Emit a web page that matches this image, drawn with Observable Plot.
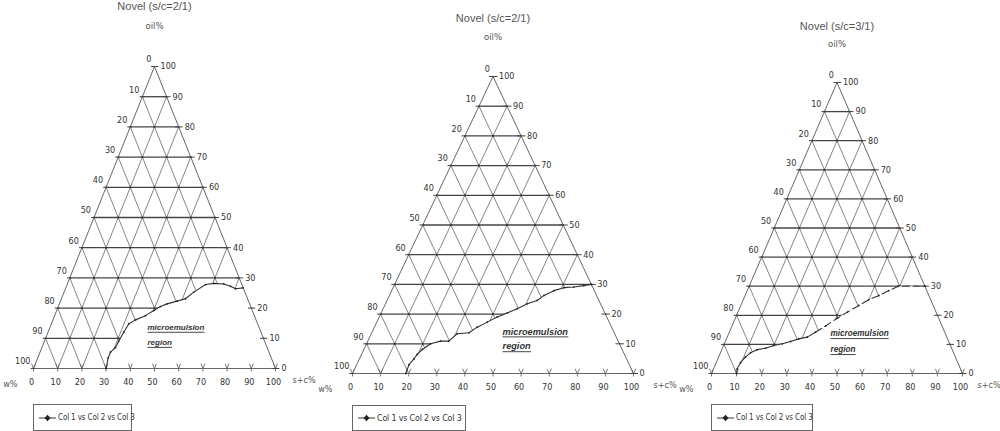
<!DOCTYPE html>
<html>
<head>
<meta charset="utf-8">
<script src="https://cdn.jsdelivr.net/npm/d3@7"></script>
<script src="https://cdn.jsdelivr.net/npm/@observablehq/plot@0.6"></script>
<style>
  html, body { margin: 0; padding: 0; background: #fff; }
  #root { position: relative; width: 1000px; height: 431px; overflow: hidden; background: #fff; }
  .legend { position: absolute; box-sizing: border-box; border: 1px solid #666; background: #fff; white-space: nowrap;
            display: flex; align-items: center; font-family: "DejaVu Sans Condensed", "Liberation Sans", sans-serif; color: #333; letter-spacing: -0.15px; }
  .legend svg { margin: 0 2px 0 5px; flex: none; }
</style>
</head>
<body>
<div id="root"></div>
<script>
// ---------- data ----------
const scTicks  = [0, 10, 20, 30, 40, 50, 60, 70, 80, 90, 100];   // s+c% (bottom)
const oilTicks = [0, 10, 20, 30, 40, 50, 60, 70, 80, 90, 100];   // oil% (right)
const wTicks   = [0, 10, 20, 30, 40, 50, 60, 70, 80, 90, 100];   // w%  (left)

const titles = ["Novel (s/c=2/1)", "Novel (s/c=2/1)", "Novel (s/c=3/1)"];
const apexLabel = "oil%";
const leftLabel = "w%";
const rightLabel = "s+c%";
const legendLabel = "Col 1 vs Col 2 vs Col 3";
const regionLabel = ["microemulsion", "region"];

// phase boundary, as (s+c %, oil %) pairs
const curve1SC  = [30.0, 29.1, 29.1, 30.4, 30.7, 31.3, 32.0, 34.1, 37.5, 40.1, 42.2, 44.5, 48.2, 51.2, 53.6, 57.2, 60.4, 64.6, 67.8, 70.3, 73.3];
const curve1Oil = [0.0,  3.5,  5.4,  6.9,  9.0, 12.0, 14.8, 16.1, 17.5, 19.2, 20.5, 21.4, 22.3, 23.1, 25.3, 27.8, 28.2, 28.0, 27.2, 26.4, 26.7];

const curve2SC  = [19.0, 18.6, 19.4, 19.8, 20.8, 22.8, 25.9, 28.8, 30.6, 34.6, 36.6, 39.3, 42.0, 44.9, 47.7, 50.5, 53.4, 55.0, 57.7, 60.8, 64.2, 67.5, 70.0];
const curve2Oil = [0.0,  2.9,  4.9,  6.4,  8.1, 10.0, 10.9, 10.9, 13.4, 13.7, 15.6, 17.3, 19.0, 20.4, 21.8, 23.5, 24.6, 26.3, 27.9, 28.9, 29.1, 29.6, 30.0];

const curve3SC  = [10.0, 9.4, 9.7, 10.7, 12.0, 14.1, 17.2, 20.0, 23.1, 26.0, 28.8, 31.9, 34.3, 37.3, 40.6, 43.6, 47.0, 50.0, 53.3, 56.4, 59.5, 70.0];
const curve3Oil = [0.0,  1.6, 3.7,  5.6,  7.1,  8.2,  8.7,  9.6, 10.2, 11.0, 11.9, 12.5, 14.2, 16.3, 19.0, 21.1, 23.4, 25.4, 26.8, 28.5, 30.0, 30.0];

// ---------- layout (pixels) ----------
const panels = [
  { title: titles[0], sc: curve1SC, oil: curve1Oil, dashFrom: null,
    left: 0,   width: 320, mL: 33, mR: 45, mT: 66, mB: 63, titleDy: -64, apexDy: -44, wDx: -16, scDx: 17,
    label: { x: 47.1, y1: 13.6, y2: 8.6, size: 8 },
    legend: { left: 33, top: 404, width: 99, height: 27, size: 8 } },
  { title: titles[1], sc: curve2SC, oil: curve2Oil, dashFrom: null,
    left: 310, width: 350, mL: 42, mR: 27, mT: 76, mB: 58, titleDy: -62, apexDy: -43, wDx: -20, scDx: 20,
    label: { x: 53.4, y1: 14.1, y2: 9.1, size: 9.2 },
    legend: { left: 352, top: 405, width: 114, height: 26, size: 8.8 } },
  { title: titles[2], sc: curve3SC, oil: curve3Oil, dashFrom: 12,
    left: 660, width: 340, mL: 51, mR: 38, mT: 82, mB: 58, titleDy: -60, apexDy: -42, wDx: -18, scDx: 15,
    label: { x: 47.4, y1: 13.7, y2: 8.2, size: 8.2 },
    legend: { left: 711, top: 404, width: 102, height: 27, size: 8 } }
];

const narrow = '"DejaVu Sans Condensed", "Liberation Sans", sans-serif';
const regular = '"Liberation Sans", Arial, sans-serif';

// ternary (s+c, oil) -> cartesian
const tern = (sc, oil) => ({ x: sc + oil / 2, y: oil });

function makePanel(p) {
  const inner = scTicks.filter(k => k > 0 && k < 100);
  const gridOil = inner.map(k => ({ a: tern(0, k), b: tern(100 - k, k) }));
  const gridSC  = inner.map(k => ({ a: tern(k, 0), b: tern(k, 100 - k) }));
  const gridW   = inner.map(k => ({ a: tern(100 - k, 0), b: tern(0, 100 - k) }));
  const lattice = [];
  for (const o of inner) for (const s of scTicks) if (s + o <= 100) lattice.push(tern(s, o));
  const curve = p.sc.map((s, i) => tern(s, p.oil[i]));
  const region = [...curve, tern(100, 0)];
  const border = [tern(0, 0), tern(100, 0), tern(0, 100), tern(0, 0)];

  const baseV = scTicks.flatMap(k => [
    { a: tern(k, 0), b: { x: k + 0.8, y: 1.6 } },
    { a: tern(k, 0), b: { x: k - 0.8, y: 1.6 } },
    { a: tern(k, 0), b: { x: k, y: -1.0 } }
  ]);
  const rightT = oilTicks.map(k => ({ a: { x: tern(100 - k, k).x - 1.4, y: k }, b: { x: tern(100 - k, k).x + 1.6, y: k } }));
  const leftT = wTicks.map(k => ({ a: { x: tern(0, 100 - k).x - 1.2, y: 100 - k }, b: { x: tern(0, 100 - k).x + 0.6, y: 100 - k } }));

  const solid = p.dashFrom == null ? curve : curve.slice(0, p.dashFrom + 1);
  const dashed = p.dashFrom == null ? [] : curve.slice(p.dashFrom);

  const link = (data, o) => Plot.link(data, { x1: d => d.a.x, y1: d => d.a.y, x2: d => d.b.x, y2: d => d.b.y, ...o });

  const svg = Plot.plot({
    width: p.width, height: 431,
    marginLeft: p.mL, marginRight: p.mR, marginTop: p.mT, marginBottom: p.mB,
    x: { domain: [0, 100], axis: null },
    y: { domain: [0, 100], axis: null },
    style: { background: "transparent", overflow: "visible" },
    marks: [
      link(gridSC, { stroke: "#777", strokeWidth: 0.9 }),
      link(gridW,  { stroke: "#777", strokeWidth: 0.9 }),
      link(gridOil, { stroke: "#444", strokeWidth: 1.3 }),
      Plot.dot(lattice, { x: "x", y: "y", r: 1, fill: "#333", stroke: "none" }),
      Plot.line(region, { x: "x", y: "y", fill: "white", stroke: "none", curve: "linear" }),
      Plot.line(border, { x: "x", y: "y", stroke: "#666", strokeWidth: 1 }),
      link(baseV, { stroke: "#666", strokeWidth: 0.9 }),
      link(rightT, { stroke: "#444", strokeWidth: 1 }),
      link(leftT, { stroke: "#444", strokeWidth: 1 }),
      Plot.line(solid, { x: "x", y: "y", stroke: "#333", strokeWidth: 1.1 }),
      Plot.line(dashed, { x: "x", y: "y", stroke: "#333", strokeWidth: 1.1, strokeDasharray: "7,4" }),
      Plot.dot(curve, { x: "x", y: "y", r: 0.9, fill: "#222", stroke: "none" }),
      Plot.text(wTicks, { x: k => tern(0, 100 - k).x, y: k => 100 - k, text: k => String(k),
        textAnchor: "end", dx: -3, dy: -7, fontSize: 9, fontFamily: narrow, fill: "#333" }),
      Plot.text(oilTicks, { x: k => tern(100 - k, k).x, y: k => k, text: k => String(k),
        textAnchor: "start", dx: 6, fontSize: 9, fontFamily: narrow, fill: "#333" }),
      Plot.text(scTicks, { x: k => k, y: 0, text: k => String(k),
        dy: 14, dx: -2, fontSize: 9, fontFamily: narrow, fill: "#333" }),
      Plot.text([p.title], { frameAnchor: "top", dy: p.titleDy, text: d => d, fontSize: 11, fontFamily: regular, fill: "#555" }),
      Plot.text([apexLabel], { frameAnchor: "top", dy: p.apexDy, text: d => d, fontSize: 9.5, fontFamily: narrow, fill: "#555" }),
      Plot.text([leftLabel], { frameAnchor: "bottom-left", textAnchor: "end", dx: p.wDx, dy: 18, text: d => d, fontSize: 9, fontFamily: narrow, fill: "#555" }),
      Plot.text([rightLabel], { frameAnchor: "bottom-right", textAnchor: "start", dx: p.scDx, dy: 14, text: d => d, fontSize: 9, fontFamily: narrow, fill: "#555" }),
      Plot.text([regionLabel[0]], { x: p.label.x, y: p.label.y1, text: d => d, textAnchor: "start",
        fontSize: p.label.size, fontFamily: regular, fontWeight: "bold", fontStyle: "italic", fill: "#333" }),
      Plot.text([regionLabel[1]], { x: p.label.x, y: p.label.y2, text: d => d, textAnchor: "start",
        fontSize: p.label.size, fontFamily: regular, fontWeight: "bold", fontStyle: "italic", fill: "#333" })
    ]
  });
  svg.style.position = "absolute";
  svg.style.left = p.left + "px";
  svg.style.top = "0px";
  return svg;
}

function underline(svg) {
  d3.select(svg).selectAll("text").filter(function () { return regionLabel.includes(this.textContent); })
    .each(function () {
      const b = this.getBBox();
      const parent = this.parentNode;
      const t = this.getAttribute("transform");
      d3.select(parent).append("line")
        .attr("transform", t)
        .attr("x1", b.x).attr("x2", b.x + b.width)
        .attr("y1", b.y + b.height + 0.3).attr("y2", b.y + b.height + 0.3)
        .attr("stroke", "#333").attr("stroke-width", 0.9);
    });
}

const root = document.getElementById("root");
for (const p of panels) {
  const svg = makePanel(p);
  root.appendChild(svg);
  underline(svg);
  const lg = document.createElement("div");
  lg.className = "legend";
  Object.assign(lg.style, { left: p.legend.left + "px", top: p.legend.top + "px",
    width: p.legend.width + "px", height: p.legend.height + "px", fontSize: p.legend.size + "px" });
  lg.innerHTML = '<svg width="17" height="8"><line x1="0" y1="4" x2="17" y2="4" stroke="#333" stroke-width="1"/>' +
    '<path d="M8.5,0.8 L11.5,4 L8.5,7.2 L5.5,4 Z" fill="#222"/></svg>';
  const span = document.createElement("span");
  span.textContent = legendLabel;
  lg.appendChild(span);
  root.appendChild(lg);
}
</script>
</body>
</html>
